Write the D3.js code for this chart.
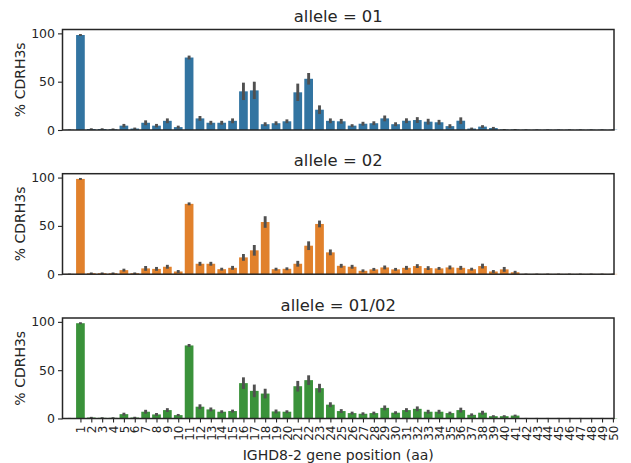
<!DOCTYPE html>
<html>
<head>
<meta charset="utf-8">
<script src="https://d3js.org/d3.v7.min.js"></script>
<style>
body { margin:0; background:#fff; }
text { font-family: "DejaVu Sans", sans-serif; fill:#262626; }
</style>
</head>
<body>
<script>
// positions along IGHD8-2 (0 has no tick label)
var positions = [0,1,2,3,4,5,6,7,8,9,10,11,12,13,14,15,16,17,18,19,20,21,22,23,24,25,
	26,27,28,29,30,31,32,33,34,35,36,37,38,39,40,41,42,43,44,45,46,47,48,49,50];

var alleles = ["01", "02", "01/02"];

// mean % CDRH3s per position
var pct01 = [0.3,98.3,1,1,0.8,4.5,1.5,7.5,4.5,9.5,3,75,12,7.5,7.5,9.5,40,41,6,7,9,39,53,21,9.5,9,
	4.5,6.5,7,12,6,9.6,10.3,8.6,8,4,9.6,1.5,3.5,2,0.5,0.5,0.3,0.3,0.3,0.3,0.3,0.3,0.3,0.3,0.3];
var pct02 = [0.3,98.6,1,1,1,4.2,1,6,5.5,7.7,2.8,72.8,10.8,10.8,5.2,6.6,17.4,24.7,54,5.2,5.6,10.8,29.5,52,22.6,8.7,
	7.7,3.5,5,7,5,6.6,8.4,6.3,6,7,6.6,5.2,8.4,2.8,5,2,0.3,0.3,0.3,0.3,0.3,0.3,0.3,0.3,0.3];
var pct0102 = [0.3,98.6,1,0.7,0.7,4.5,1,7,4.2,8.7,3.5,75.6,12.2,9.4,7,7.7,36.6,28.6,25.8,7.3,7,33.4,39.7,31.4,14.3,7.7,
	5.6,4.9,5.6,11,6,8.7,10,7,7,5.6,8.7,3.8,6,2.4,2.4,3,0.3,0.3,0.3,0.3,0.3,0.3,0.3,0.3,0.3];

// half width of the confidence interval
var err01 = [0.3,1,0.8,0.8,0.8,1.8,1,2.5,1.8,2.5,1.5,2,2.5,2,2,2.5,9,9,2,2,2,9,6,4.5,2.5,2.5,
	1.5,2,2,3,2,2.5,3,3,2.5,2,3.5,1,1.5,1.2,0.5,0.5,0.3,0.3,0.3,0.3,0.3,0.3,0.3,0.3,0.3];
var err02 = [0.3,1,0.8,0.8,0.8,1.5,0.8,2.5,2,2,1.5,1.5,2,2,1.5,2,3.5,5.5,6,1.5,1.5,3,4.5,3.5,3,2,
	2,1.5,1.5,2,1.5,2,2,2,1.5,2,2,1.5,2.5,1.5,2.5,1.5,0.3,0.3,0.3,0.3,0.3,0.3,0.3,0.3,0.3];
var err0102 = [0.3,1,0.7,0.6,0.6,1.5,0.8,2,1.5,2,1.2,1.5,2.5,2,1.5,1.5,6,6.5,5,2,1.5,5.5,5,4.5,2.5,2,
	1.5,1.5,1.5,2.5,1.5,2,2.5,2,2,1.5,2.5,1.5,2,1,1,1,0.3,0.3,0.3,0.3,0.3,0.3,0.3,0.3,0.3];

var yTicks = [0, 50, 100];

var series = [pct01, pct02, pct0102];
var errors = [err01, err02, err0102];
var colors = ["#3274a1", "#e1812c", "#3a923a"];

var left = 62.5, right = 614;
var tops = [29.5, 173.7, 318];
var ph = 100.5;

var svg = d3.select("body")
	.append("svg")
	.attr("width", 631)
	.attr("height", 463);

var x = d3.scaleLinear()
	.domain([-0.65, 50.1])
	.range([left, right]);
var bw = (x(1) - x(0)) * 0.8;

alleles.forEach(function(al, k) {
	var y = d3.scaleLinear()
		.domain([0, 104])
		.range([tops[k] + ph, tops[k]]);

	var g = svg.append("g");

	var rows = positions.map(function(p, i) {
		return {p: p, v: series[k][i], e: errors[k][i]};
	});

	g.selectAll("rect.bar")
		.data(rows)
		.enter()
		.append("rect")
		.attr("class", "bar")
		.attr("x", function(d) { return x(d.p) - bw / 2; })
		.attr("width", bw)
		.attr("y", function(d) { return y(d.v); })
		.attr("height", function(d) { return y(0) - y(d.v); })
		.attr("fill", colors[k]);

	g.selectAll("line.err")
		.data(rows)
		.enter()
		.append("line")
		.attr("class", "err")
		.attr("x1", function(d) { return x(d.p); })
		.attr("x2", function(d) { return x(d.p); })
		.attr("y1", function(d) { return y(Math.max(0, d.v - d.e)); })
		.attr("y2", function(d) { return y(d.v + d.e); })
		.attr("stroke", "#505050")
		.attr("stroke-width", 2.9);

	// y axis
	var yAxis = d3.axisLeft(y).tickValues(yTicks).tickSize(4.5).tickPadding(3);
	var ya = g.append("g")
		.attr("transform", "translate(" + left + ",0)")
		.call(yAxis);
	ya.select(".domain").remove();
	ya.selectAll("text").attr("font-size", 12.5).attr("fill", "#262626");
	ya.selectAll("line").attr("stroke", "#262626").attr("stroke-width", 1.1);

	// frame
	g.append("rect")
		.attr("x", left)
		.attr("y", tops[k])
		.attr("width", right - left)
		.attr("height", ph)
		.attr("fill", "none")
		.attr("stroke", "#262626")
		.attr("stroke-width", 1.5);

	g.append("text")
		.attr("x", (left + right) / 2)
		.attr("y", tops[k] - 7.5)
		.attr("text-anchor", "middle")
		.attr("font-size", 16.4)
		.text("allele = " + al);

	g.append("text")
		.attr("transform", "translate(25," + (tops[k] + ph / 2) + ") rotate(-90)")
		.attr("text-anchor", "middle")
		.attr("font-size", 14)
		.text("% CDRH3s");

	// x ticks only on the bottom panel
	if (k == 2) {
		var xAxis = d3.axisBottom(x)
			.tickValues(positions.slice(1))
			.tickFormat(function(d) { return String(d); })
			.tickSize(4)
			.tickPadding(3);
		var xa = g.append("g")
			.attr("transform", "translate(0," + (tops[k] + ph) + ")")
			.call(xAxis);
		xa.select(".domain").remove();
		xa.selectAll("line").attr("stroke", "#262626").attr("stroke-width", 1.1);
		xa.selectAll("text")
			.attr("font-size", 12)
			.attr("fill", "#262626")
			.attr("transform", "rotate(-90)")
			.attr("text-anchor", "end")
			.attr("x", -7)
			.attr("y", 0)
			.attr("dy", "0.35em");
	}
});

svg.append("text")
	.attr("x", (left + right) / 2)
	.attr("y", 460)
	.attr("text-anchor", "middle")
	.attr("font-size", 14)
	.text("IGHD8-2 gene position (aa)");
</script>
</body>
</html>
